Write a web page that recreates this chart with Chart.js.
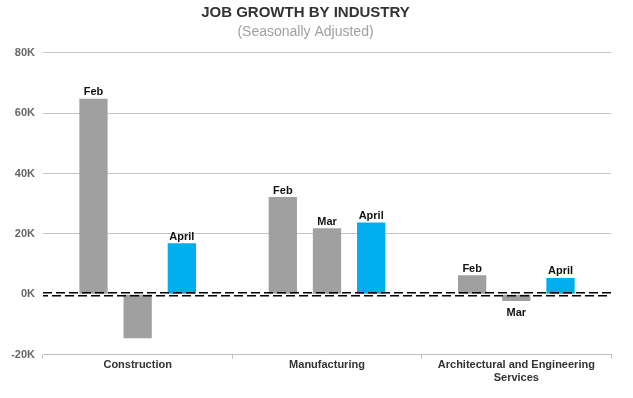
<!DOCTYPE html>
<html>
<head>
<meta charset="utf-8">
<script src="https://cdn.jsdelivr.net/npm/chart.js@4"></script>
<style>
  html, body { margin: 0; padding: 0; background: #fff; }
  #wrap { width: 633px; height: 398px; }
</style>
</head>
<body>
<div id="wrap"><canvas id="jobChart" width="633" height="398"></canvas></div>
<script>
var industries = ['Construction', 'Manufacturing', ['Architectural and Engineering', 'Services']];

var jobs_feb = [64800, 32200, 6300];
var jobs_mar = [-14600, 21900, -2200];
var jobs_april = [16900, 23800, 5400];

// text shown over each bar ('' = no label)
var tags_feb = ['Feb', 'Feb', 'Feb'];
var tags_mar = ['', 'Mar', 'Mar'];
var tags_april = ['April', 'April', 'April'];

var yTicks = [-20000, 0, 20000, 40000, 60000, 80000];

var FONT = "'Liberation Sans', Arial, sans-serif";

var barTags = {
  id: 'barTags',
  afterDatasetsDraw: function(chart) {
    var ctx = chart.ctx;
    var y0 = chart.scales.y.getPixelForValue(0);
    var area = chart.chartArea;
    // double dashed zero line
    ctx.save();
    ctx.strokeStyle = '#000';
    ctx.lineWidth = 1.5;
    ctx.setLineDash([9, 4]);
    ctx.beginPath();
    ctx.moveTo(area.left, y0 - 1.5);
    ctx.lineTo(area.right, y0 - 1.5);
    ctx.stroke();
    ctx.lineDashOffset = 4;
    ctx.beginPath();
    ctx.moveTo(area.left, y0 + 1.5);
    ctx.lineTo(area.right, y0 + 1.5);
    ctx.stroke();
    ctx.restore();

    ctx.save();
    ctx.font = 'bold 11px ' + FONT;
    ctx.fillStyle = '#111';
    ctx.textAlign = 'center';
    chart.data.datasets.forEach(function(ds, i) {
      var meta = chart.getDatasetMeta(i);
      meta.data.forEach(function(bar, j) {
        var t = ds.tags[j];
        if (!t) return;
        if (ds.data[j] >= 0) {
          ctx.textBaseline = 'bottom';
          ctx.fillText(t, bar.x, bar.y - 1);
        } else {
          ctx.textBaseline = 'top';
          ctx.fillText(t, bar.x, bar.y + 7);
        }
      });
    });
    ctx.restore();
  }
};

new Chart(document.getElementById('jobChart').getContext('2d'), {
  type: 'bar',
  data: {
    labels: industries,
    datasets: [
      { label: 'Feb', data: jobs_feb, tags: tags_feb, backgroundColor: '#a0a0a0' },
      { label: 'Mar', data: jobs_mar, tags: tags_mar, backgroundColor: '#a0a0a0' },
      { label: 'April', data: jobs_april, tags: tags_april, backgroundColor: '#00aeef' }
    ]
  },
  options: {
    responsive: false,
    animation: false,
    categoryPercentage: 0.7,
    barPercentage: 0.64,
    layout: { padding: { left: 0, right: 22, top: 4, bottom: 13 } },
    plugins: {
      legend: { display: false },
      tooltip: { enabled: false },
      title: {
        display: true,
        text: 'JOB GROWTH BY INDUSTRY',
        color: '#333',
        font: { family: FONT, size: 15, weight: 'bold' },
        padding: { top: 0, bottom: 2 }
      },
      subtitle: {
        display: true,
        text: '(Seasonally Adjusted)',
        color: '#a0a0a0',
        font: { family: FONT, size: 14 },
        padding: { top: 0, bottom: 12 }
      }
    },
    scales: {
      x: {
        grid: { offset: true, drawOnChartArea: false, drawTicks: true, tickLength: 4, color: '#c0c0c0' },
        border: { color: '#c0c0c0' },
        ticks: { color: '#333', font: { family: FONT, size: 11, weight: 'bold' }, padding: 0 }
      },
      y: {
        min: -20000,
        max: 80000,
        afterBuildTicks: function(axis) {
          axis.ticks = yTicks.map(function(v) { return { value: v }; });
        },
        afterFit: function(axis) { axis.width = 43; },
        grid: {
          drawTicks: false,
          color: function(c) { return c.tick && c.tick.value === 0 ? 'rgba(0,0,0,0)' : '#c4c4c4'; }
        },
        border: { display: false },
        ticks: {
          padding: 8,
          color: '#666',
          font: { family: FONT, size: 11, weight: 'bold' },
          callback: function(v) { return (v / 1000) + 'K'; }
        }
      }
    }
  },
  plugins: [barTags]
});
</script>
</body>
</html>
